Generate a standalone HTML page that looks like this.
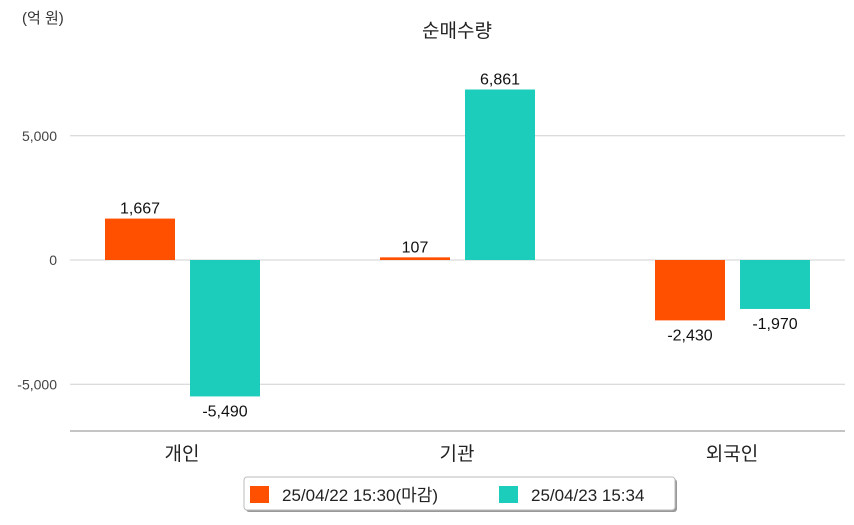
<!DOCTYPE html>
<html><head><meta charset="utf-8"><style>
body{margin:0;background:#fff;font-family:"Liberation Sans","Noto Sans CJK KR",sans-serif}
svg text{font-family:"Liberation Sans","Noto Sans CJK KR",sans-serif}
</style></head><body>
<svg id="c" width="854" height="520">
<text x="22" y="23" font-size="15" fill="#333">(억 원)</text>
<text x="457" y="37" font-size="19" text-anchor="middle" fill="#222">순매수량</text>
<g id="grid"></g><g id="bars"></g>
<line x1="70" y1="431" x2="845" y2="431" stroke="#888"/>
<g>
<rect x="246" y="479" width="431" height="33" rx="3" fill="#999"/>
<rect x="244" y="477" width="431" height="33" rx="3" fill="#fff" stroke="#bbb"/>
<rect x="250" y="486" width="19" height="17" fill="#ff5000"/>
<text x="282" y="501" font-size="17" fill="#222">25/04/22 15:30(마감)</text>
<rect x="499" y="486" width="19" height="17" fill="#1ccdbb"/>
<text x="531" y="501" font-size="17" fill="#222">25/04/23 15:34</text>
</g>
</svg>
<script>
const categories=["개인","기관","외국인"];
const series1=[1667,107,-2430];
const series2=[-5490,6861,-1970];
const yTicks=[5000,0,-5000];
const yTickLabels=["5,000","0","-5,000"];
const NS="http://www.w3.org/2000/svg";
const y=v=>260-v*0.02485;
const cx=i=>182+i*275;
const fmt=v=>v.toLocaleString("en-US");
function mk(t,a,p){const e=document.createElementNS(NS,t);for(const k in a)e.setAttribute(k,a[k]);p.appendChild(e);return e;}
const g=document.getElementById("grid"),b=document.getElementById("bars");
yTicks.forEach((t,i)=>{
 const l=mk("line",{x1:70,x2:845,y1:y(t),y2:y(t),stroke:"#d0d0d0"},g);
 
 
 const tx=mk("text",{x:57,y:y(t)+5,"font-size":14,"text-anchor":"end",fill:"#444"},g);
 tx.textContent=yTickLabels[i];
 
 
});
categories.forEach((c,i)=>{
 const ct=mk("text",{x:cx(i),y:460,"font-size":19,"text-anchor":"middle",fill:"#222"},b);
 ct.textContent=c;
 
 
 [[series1[i],"#ff5000",-77],[series2[i],"#1ccdbb",8]].forEach(([v,col,off])=>{
  const x=cx(i)+off,top=Math.min(y(v),y(0)),h=Math.max(Math.abs(y(v)-y(0)),1);
  const r=mk("rect",{x:x,y:top,width:70,height:h,fill:col},b);
  
  
  const ly=v>=0?y(v)-5:y(v)+20;
  const t=mk("text",{x:x+35,y:ly,"font-size":16,"text-anchor":"middle",fill:"#111"},b);
  t.textContent=fmt(v);
  
  
 });
});
</script>
</body></html>
